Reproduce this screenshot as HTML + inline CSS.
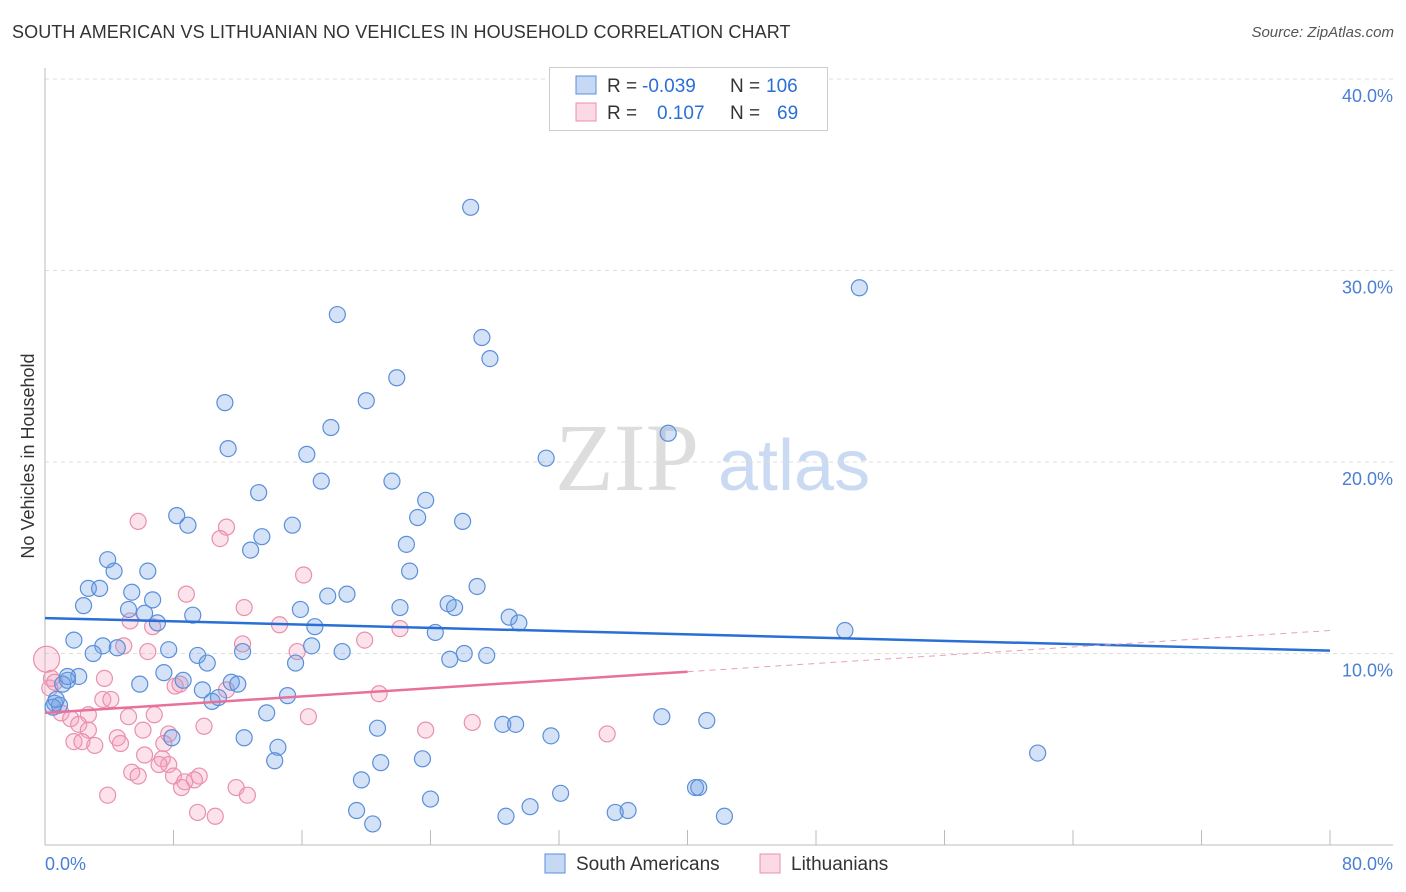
<!DOCTYPE html>
<html><head><meta charset="utf-8">
<style>
body{margin:0;background:#fff;font-family:"Liberation Sans",sans-serif;}
#wrap{position:relative;width:1406px;height:892px;overflow:hidden;}
.title{position:absolute;left:12px;top:22px;font-size:18px;color:#333;letter-spacing:0.1px;}
.source{position:absolute;right:12px;top:24px;font-size:15px;color:#555;font-style:italic;}
</style></head>
<body>
<div id="wrap">
<div class="title">SOUTH AMERICAN VS LITHUANIAN NO VEHICLES IN HOUSEHOLD CORRELATION CHART</div>
<div class="source">Source: ZipAtlas.com</div>
<svg id="chart" width="1406" height="892" style="position:absolute;left:0;top:0"></svg>
</div>
<script>
const blueX=[26.5,50.7,18.2,27.2,27.7,21.9,20.0,11.2,17.8,38.8,11.4,16.3,31.2,17.2,21.6,13.3,23.7,8.2,26.0,8.9,23.2,15.4,13.5,22.5,12.8,3.9,4.3,6.4,22.7,26.9,2.7,3.4,5.4,6.7,18.8,17.6,2.4,5.2,25.1,25.5,22.1,15.9,9.2,6.2,28.9,29.5,7.0,16.8,49.8,24.3,1.8,3.6,4.5,7.7,16.6,3.0,12.3,9.5,18.5,26.1,27.5,10.1,15.6,25.2,7.4,2.1,1.4,5.9,8.6,11.6,12.0,9.8,15.1,10.4,10.8,0.6,0.9,13.8,38.4,41.2,20.7,28.5,29.3,12.4,31.5,7.9,14.5,61.8,14.3,23.5,20.9,19.7,40.5,40.7,32.1,24.0,30.2,19.4,36.3,35.5,28.7,42.3,20.4,0.5,0.7,1.1,1.4];
const blueY=[33.3,29.1,27.7,26.5,25.4,24.4,23.2,23.1,21.8,21.5,20.7,20.4,20.2,19.0,19.0,18.4,18.0,17.2,16.9,16.7,17.1,16.7,16.1,15.7,15.4,14.9,14.3,14.3,14.3,13.5,13.4,13.4,13.2,12.8,13.1,13.0,12.5,12.3,12.6,12.4,12.4,12.3,12.0,12.1,11.9,11.6,11.6,11.4,11.2,11.1,10.7,10.4,10.3,10.2,10.4,10.0,10.1,9.9,10.1,10.0,9.9,9.5,9.5,9.7,9.0,8.8,8.6,8.4,8.6,8.5,8.4,8.1,7.8,7.5,7.7,7.4,7.3,6.9,6.7,6.5,6.1,6.3,6.3,5.6,5.7,5.6,5.1,4.8,4.4,4.5,4.3,3.4,3.0,3.0,2.7,2.4,2.0,1.8,1.8,1.7,1.5,1.5,1.1,7.2,7.6,8.4,8.8];
const pinkX=[5.8,11.3,10.9,16.1,8.8,12.4,14.6,6.7,5.3,4.9,12.3,19.9,22.1,6.4,15.7,0.1,0.4,3.7,8.1,11.3,8.4,20.8,3.6,4.1,1.0,2.7,5.2,6.8,16.4,1.6,2.1,2.7,9.9,23.7,26.6,35.0,6.1,4.5,7.7,1.8,2.3,3.1,4.7,7.4,6.2,7.3,7.7,7.1,5.4,5.8,8.0,9.6,9.3,8.7,8.5,11.9,12.6,3.9,9.5,10.6,0.3,0.6];
const pinkY=[16.9,16.6,16.0,14.1,13.1,12.4,11.5,11.4,11.7,10.4,10.5,10.7,11.3,10.1,10.1,9.7,8.7,8.7,8.3,8.1,8.4,7.9,7.6,7.6,6.9,6.8,6.7,6.8,6.7,6.6,6.3,6.0,6.2,6.0,6.4,5.8,6.0,5.6,5.8,5.4,5.4,5.2,5.3,5.3,4.7,4.5,4.2,4.2,3.8,3.6,3.6,3.6,3.4,3.3,3.0,3.0,2.6,2.6,1.7,1.5,8.2,8.5];
const blueTrend=[11.85,10.15];
const pinkTrend=[6.9,11.2];
const pinkSolidEnd=40;
const yTicks=[10,20,30,40];
const yTickLabels=["10.0%","20.0%","30.0%","40.0%"];
const xTickLabels=["0.0%","80.0%"];
const legendR=["-0.039","0.107"];
const legendN=["106","69"];

const NS="http://www.w3.org/2000/svg";
const svg=document.getElementById('chart');
const X0=45,X1=1330,Y0=845,PXPER=19.15;
const sx=v=>X0+v/80*(X1-X0);
const sy=v=>Y0-v*PXPER;
function mk(tag,attrs,parent){const e=document.createElementNS(NS,tag);for(const k in attrs)e.setAttribute(k,attrs[k]);(parent||svg).appendChild(e);return e;}

// watermark
let wm=mk('text',{x:555,y:490,'font-family':'Liberation Serif, serif','font-size':96,fill:'#ddd'});
wm.textContent='ZIP';


let wm2=mk('text',{x:718,y:490,'font-family':'Liberation Sans, sans-serif','font-size':72,fill:'#c9daf2'});
wm2.textContent='atlas';



// gridlines and y labels
yTicks.forEach((t,i)=>{
  const g=mk('line',{x1:X0,x2:1393,y1:sy(t),y2:sy(t),stroke:'#ddd','stroke-dasharray':'4,4'});
  
  
  const l=mk('text',{x:1393,y:sy(t)+23,'text-anchor':'end','font-size':18,fill:'#4a7fd4'});
  l.textContent=yTickLabels[i];
  
  
});
// axes
let ax=mk('line',{x1:X0,x2:X0,y1:68,y2:Y0,stroke:'#bbb'});


let bx=mk('line',{x1:X0,x2:1393,y1:Y0,y2:Y0,stroke:'#bbb'});


for(let i=0;i<=10;i++){
  const t=mk('line',{x1:sx(i*8),x2:sx(i*8),y1:830,y2:Y0,stroke:'#bbb'});
  
  
}
let xl0=mk('text',{x:45,y:870,'font-size':18,fill:'#4a7fd4'});
xl0.textContent=xTickLabels[0];


let xl1=mk('text',{x:1393,y:870,'text-anchor':'end','font-size':18,fill:'#4a7fd4'});
xl1.textContent=xTickLabels[1];


let yt=mk('text',{x:0,y:0,'font-size':18,fill:'#333',transform:'translate(34,456) rotate(-90)','text-anchor':'middle'});
yt.textContent='No Vehicles in Household';



// points
pinkX.forEach((x,i)=>{
  const r=(x<0.3&&pinkY[i]>9)?13:8;
  const c=mk('circle',{cx:sx(x),cy:sy(pinkY[i]),r:r,fill:'rgba(244,160,190,0.3)',stroke:'#e890ae','stroke-width':1.2});
  
  
});
blueX.forEach((x,i)=>{
  const c=mk('circle',{cx:sx(x),cy:sy(blueY[i]),r:8,fill:'rgba(110,160,230,0.3)',stroke:'#5b8fd9','stroke-width':1.2});
  
  
});
// trends
let bt=mk('line',{x1:sx(0),y1:sy(blueTrend[0]),x2:sx(80),y2:sy(blueTrend[1]),stroke:'#2a6fd6','stroke-width':2.5});


const pAt=x=>pinkTrend[0]+(pinkTrend[1]-pinkTrend[0])*x/80;
let pt=mk('line',{x1:sx(0),y1:sy(pAt(0)),x2:sx(pinkSolidEnd),y2:sy(pAt(pinkSolidEnd)),stroke:'#e8709a','stroke-width':2.5});


let pd=mk('line',{x1:sx(pinkSolidEnd),y1:sy(pAt(pinkSolidEnd)),x2:sx(80),y2:sy(pAt(80)),stroke:'#e8a0b8','stroke-width':1,'stroke-dasharray':'6,5'});



// top legend
let lg=mk('rect',{x:549.5,y:67.5,width:278,height:63,fill:'#fff',stroke:'#ccc'});


[['rgba(110,160,230,0.4)','#5b8fd9'],['rgba(244,160,190,0.4)','#e890ae']].forEach((c,i)=>{
  const y=76+i*27;
  const s=mk('rect',{x:576,y:y,width:20,height:18,fill:c[0],stroke:c[1]});
  
  
  const t=mk('text',{x:607,y:y+16,'font-size':19,fill:'#333'});
  t.innerHTML='R = <tspan fill="#2a6fd6" x="'+(i==0?642:657)+'">'+legendR[i]+'</tspan><tspan fill="#333" x="730">N =</tspan><tspan fill="#2a6fd6" x="'+(i==0?766:777)+'">'+legendN[i]+'</tspan>';
  
  
});
// bottom legend
[['South Americans','rgba(110,160,230,0.4)','#5b8fd9',545],['Lithuanians','rgba(244,160,190,0.4)','#e890ae',760]].forEach(d=>{
  const s=mk('rect',{x:d[3],y:854,width:20,height:19,fill:d[1],stroke:d[2]});
  
  
  const t=mk('text',{x:d[3]+31,y:870,'font-size':19,fill:'#333'});
  t.textContent=d[0];
  
  
});
</script>
</body></html>
